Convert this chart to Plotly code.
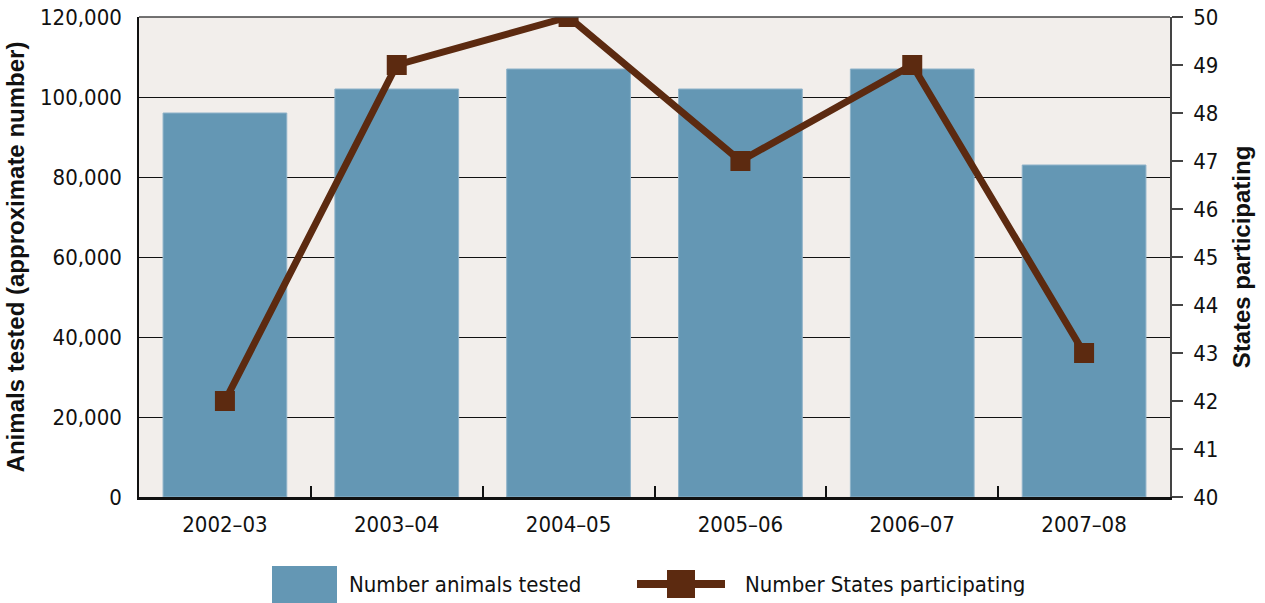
import plotly.graph_objects as go

categories = ["2002–03", "2003–04", "2004–05", "2005–06", "2006–07", "2007–08"]
animals_tested = [96000, 102000, 107000, 102000, 107000, 83000]
states_participating = [42, 49, 50, 47, 49, 43]
left_ticks = [0, 20000, 40000, 60000, 80000, 100000, 120000]
right_ticks = list(range(40, 51))

BAR = "#6497b4"
LINE = "#5c2a10"
COND = "DejaVu Sans Condensed, sans-serif"
BOLD = "Liberation Sans, Arial, sans-serif"
TS = 22

fig = go.Figure()
fig.add_trace(go.Bar(x=categories, y=animals_tested, marker=dict(color=BAR, line=dict(color="#8fb3c9", width=1)),
                     width=0.72, name="Number animals tested", yaxis="y", showlegend=False))
fig.add_trace(go.Scatter(x=categories, y=states_participating, mode="lines+markers",
                         line=dict(color=LINE, width=7), marker=dict(symbol="square", size=20, color=LINE),
                         name="Number States participating", yaxis="y2", showlegend=False))

fig.update_layout(
    width=1265, height=603,
    margin=dict(l=139, r=95, t=17, b=106),
    paper_bgcolor="white", plot_bgcolor="#f2eeeb",
    font=dict(family=COND, size=TS, color="#111"),
    xaxis=dict(showline=True, linecolor="#111", linewidth=2.5, ticks="inside", ticklen=11, tickwidth=1.5,
               tickcolor="#111", tickson="boundaries", showgrid=False, automargin=False,
               ticklabelstandoff=6, tickfont=dict(size=TS, family=COND)),
    yaxis=dict(range=[0, 120000], tickvals=left_ticks, tickformat=",d", showgrid=True, gridcolor="#111",
               gridwidth=1, showline=True, linecolor="#111", linewidth=1.5, ticks="", ticklabelstandoff=11,
               zeroline=False, automargin=False,
               title=dict(text="Animals tested (approximate number)",
                          font=dict(family=BOLD, size=24, color="#111", weight="bold"), standoff=9),
               tickfont=dict(size=TS, family=COND)),
    yaxis2=dict(range=[40, 50], tickvals=right_ticks, overlaying="y", side="right", showgrid=False,
                showline=True, linecolor="#444", linewidth=1.5, ticks="outside", ticklen=11, tickwidth=1.5,
                tickcolor="#444", zeroline=False, ticklabelstandoff=6, automargin=False,
                title=dict(text="States participating",
                           font=dict(family=BOLD, size=24, color="#111", weight="bold"), standoff=16),
                tickfont=dict(size=TS, family=COND)),
)

# top border of plot area
fig.add_shape(type="line", xref="paper", yref="paper", x0=0, x1=1, y0=1, y1=1,
              line=dict(color="#444", width=1.5))

# manual legend
px_w, px_h = 1265 - 139 - 95, 603 - 17 - 106
def px(xp): return (xp - 139) / px_w
def py(yp): return (603 - 106 - yp) / px_h

fig.add_shape(type="rect", xref="paper", yref="paper", x0=px(272), x1=px(337), y0=py(603), y1=py(566),
              fillcolor=BAR, line=dict(width=0))
fig.add_annotation(xref="paper", yref="paper", x=px(347), y=py(584), text="Number animals tested",
                   showarrow=False, xanchor="left", yanchor="middle", font=dict(family=COND, size=TS, color="#111"))
fig.add_shape(type="line", xref="paper", yref="paper", x0=px(637), x1=px(725), y0=py(584), y1=py(584),
              line=dict(color=LINE, width=8))
fig.add_shape(type="rect", xref="paper", yref="paper", x0=px(667), x1=px(695), y0=py(598), y1=py(570),
              fillcolor=LINE, line=dict(width=0))
fig.add_annotation(xref="paper", yref="paper", x=px(743), y=py(584), text="Number States participating",
                   showarrow=False, xanchor="left", yanchor="middle", font=dict(family=COND, size=TS, color="#111"))

fig.write_html("out.html")
